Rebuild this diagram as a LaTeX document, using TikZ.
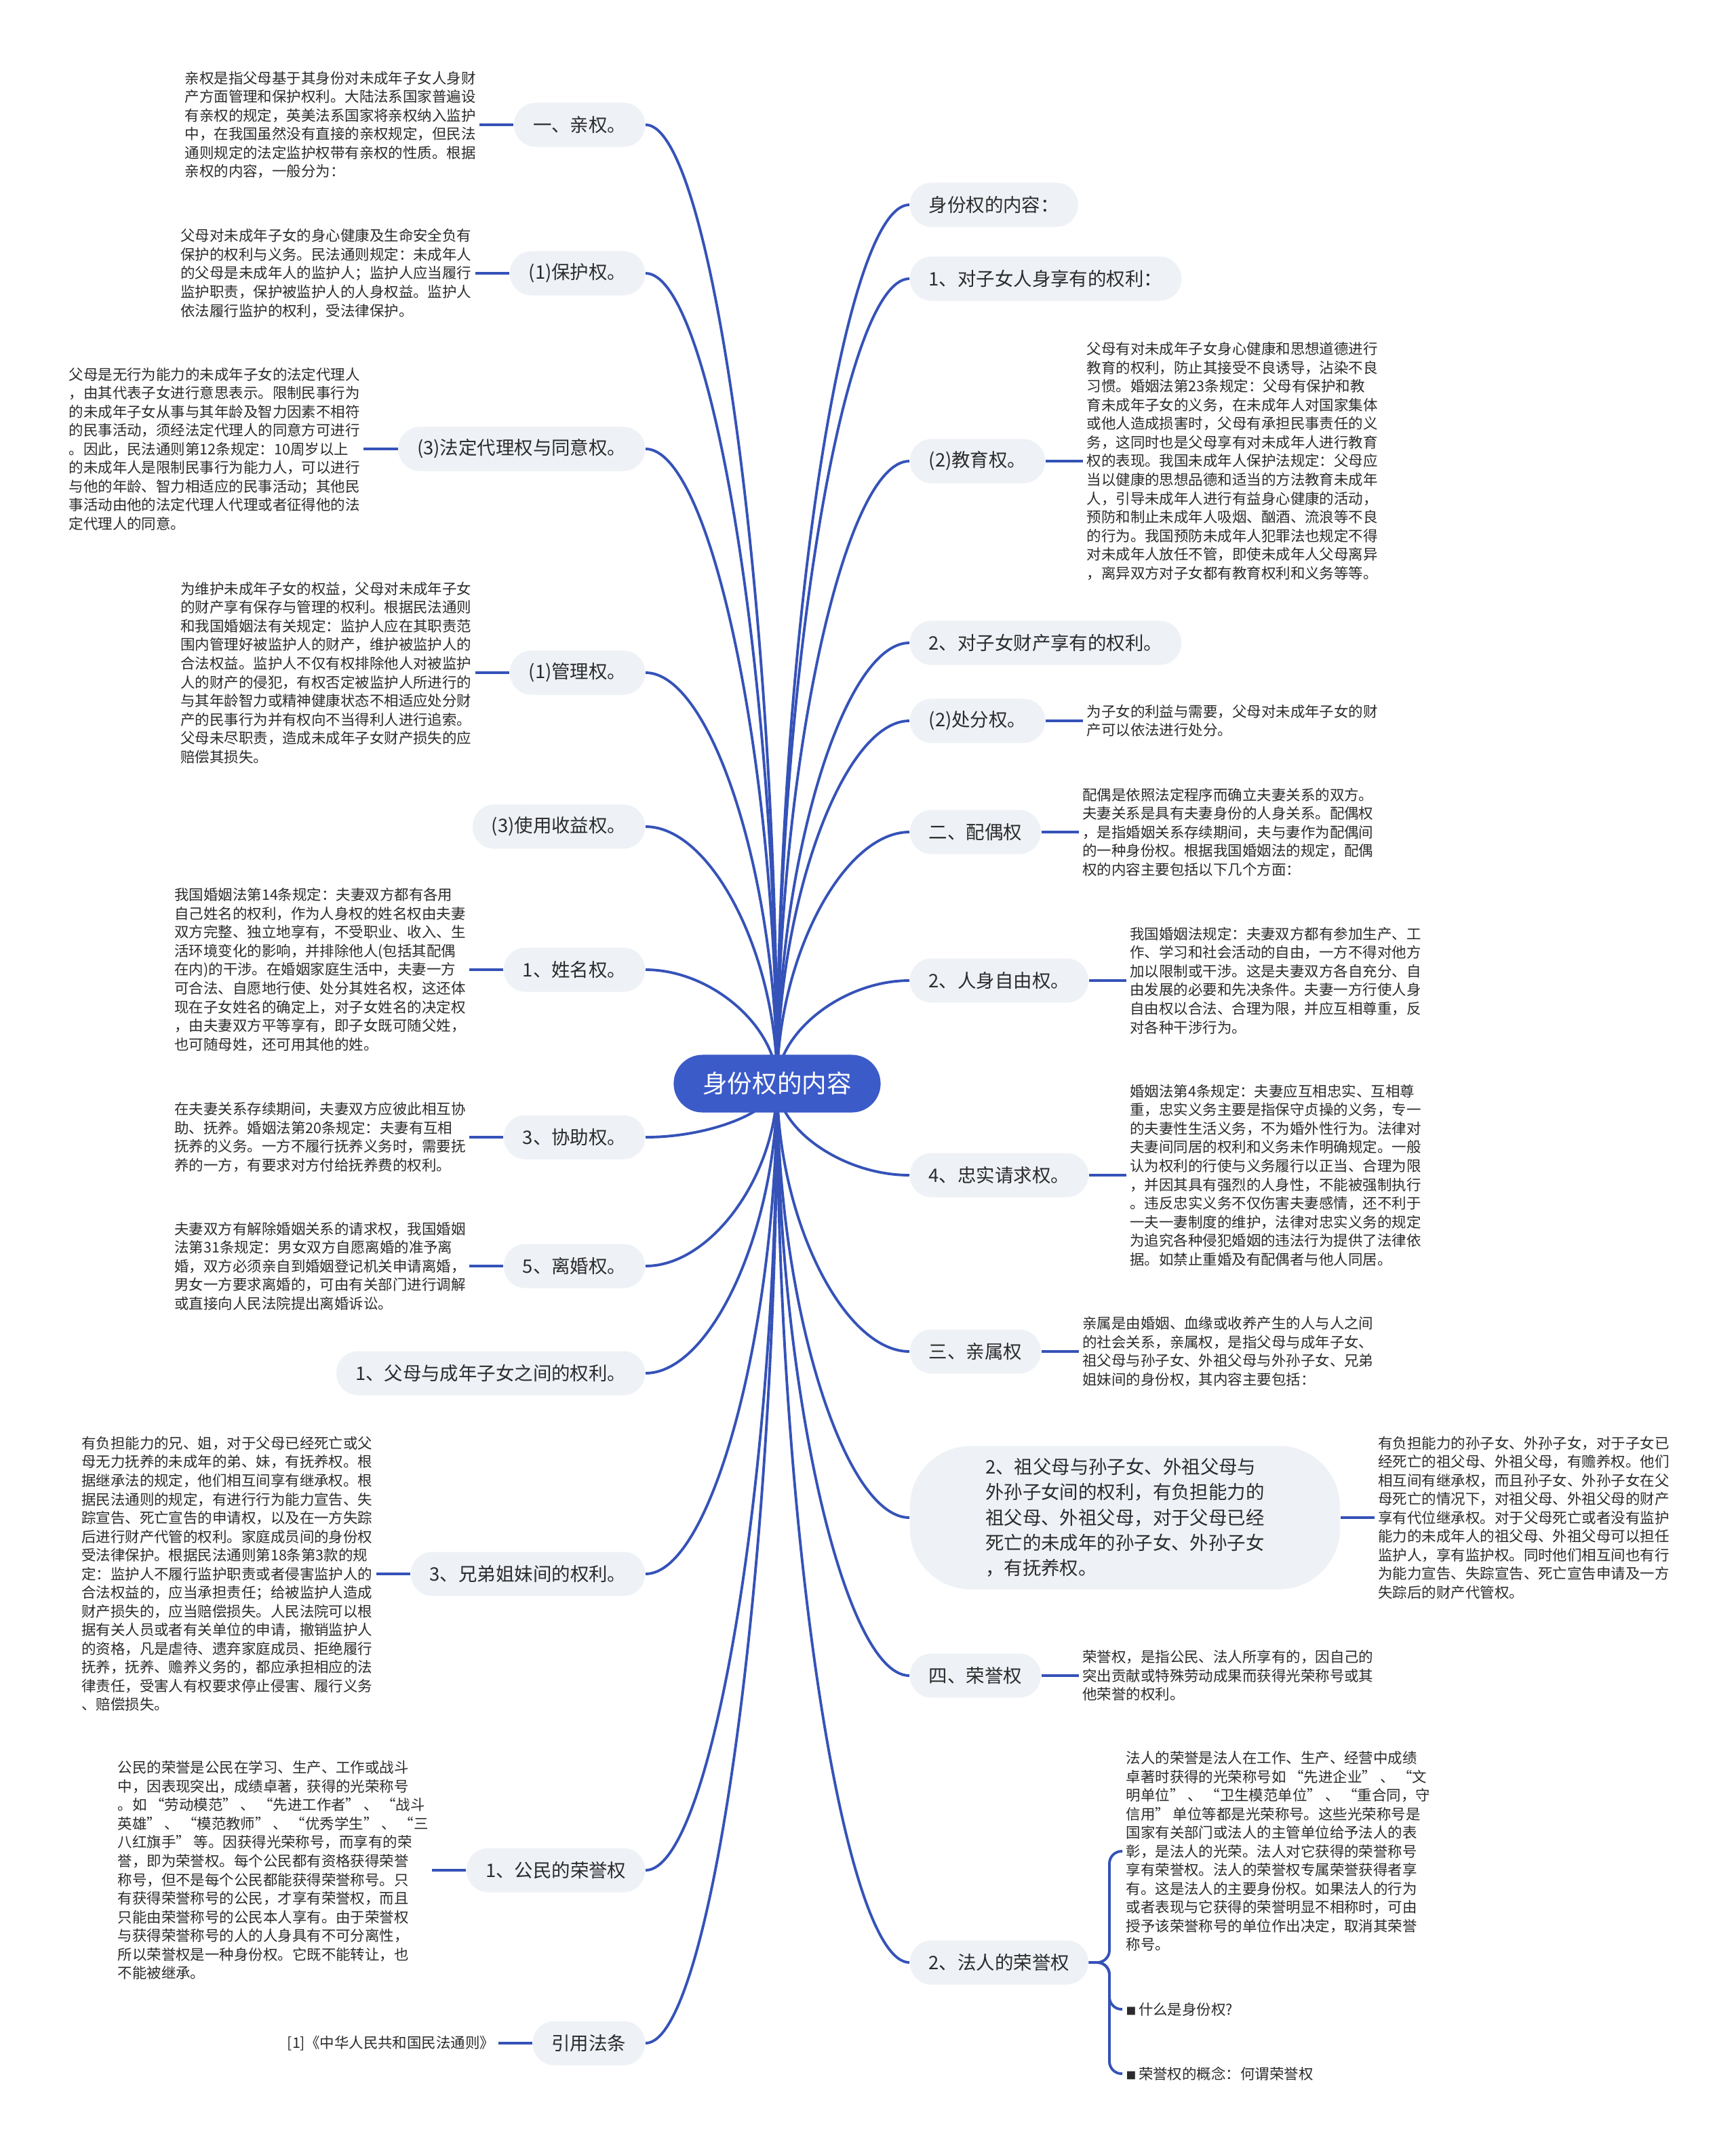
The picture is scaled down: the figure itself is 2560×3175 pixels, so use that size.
\documentclass[tikz,border=0pt]{standalone}
\usepackage{fontspec}
\setmainfont{Noto Sans CJK SC}
\usetikzlibrary{calc,backgrounds}
\definecolor{rootblue}{HTML}{3B5BC8}
\definecolor{linkblue}{HTML}{3552B8}
\definecolor{nodefill}{HTML}{EEF1F6}
\definecolor{txt}{HTML}{2B2B2B}
\tikzset{
  rootnode/.style={fill=rootblue, text=white, rounded corners=0.425cm, minimum width=3.05cm, minimum height=0.85cm, inner xsep=0.4cm, font=\fontsize{10.4pt}{12pt}\selectfont},
  branch/.style={fill=nodefill, text=txt, rounded corners=0.32cm, minimum height=0.65cm, inner xsep=0.28cm, font=\fontsize{7.8pt}{10.6pt}\selectfont},
  lbranch/.style={branch, anchor=east},
  rbranch/.style={branch, anchor=west},
  note/.style={text=txt, align=left, inner sep=0.05cm, font=\fontsize{6.1pt}{7.83pt}\selectfont},
  lnote/.style={note, anchor=east},
  rnote/.style={note, anchor=west},
  link/.style={draw=linkblue, line width=1.1pt},
}
\newcommand\toroot[2]{%
  \coordinate (mm) at ($(R.center)!0.5!(#1.#2)$);
  \draw[link] (R.center) .. controls (R.center |- mm) and (mm |- #1.#2) .. (#1.#2);
}
\begin{document}
\begin{tikzpicture}[x=0.01cm, y=-0.01cm]
\useasboundingbox (0,0) rectangle (2560,3175);

\node[rootnode] (R) at (1146,1598) {身份权的内容};

% ---------- left branches ----------
\node[lbranch] (l1) at (952,184) {一、亲权。};
\node[lbranch] (l2) at (952,403) {(1)保护权。};
\node[lbranch] (l3) at (952,662) {(3)法定代理权与同意权。};
\node[lbranch] (l4) at (952,992) {(1)管理权。};
\node[lbranch] (l5) at (952,1219) {(3)使用收益权。};
\node[lbranch] (l6) at (952,1430) {1、姓名权。};
\node[lbranch] (l7) at (952,1677) {3、协助权。};
\node[lbranch] (l8) at (952,1867) {5、离婚权。};
\node[lbranch] (l9) at (952,2025) {1、父母与成年子女之间的权利。};
\node[lbranch] (l10) at (952,2321) {3、兄弟姐妹间的权利。};
\node[lbranch] (l11) at (952,2758) {1、公民的荣誉权};
\node[lbranch] (l12) at (952,3013) {引用法条};

\node[lnote] (t1) at ([xshift=-0.5cm]l1.west) {亲权是指父母基于其身份对未成年子女人身财\\
产方面管理和保护权利。大陆法系国家普遍设\\
有亲权的规定，英美法系国家将亲权纳入监护\\
中，在我国虽然没有直接的亲权规定，但民法\\
通则规定的法定监护权带有亲权的性质。根据\\
亲权的内容，一般分为：};

\node[lnote] (t2) at ([xshift=-0.5cm]l2.west) {父母对未成年子女的身心健康及生命安全负有\\
保护的权利与义务。民法通则规定：未成年人\\
的父母是未成年人的监护人；监护人应当履行\\
监护职责，保护被监护人的人身权益。监护人\\
依法履行监护的权利，受法律保护。};

\node[lnote] (t3) at ([xshift=-0.5cm]l3.west) {父母是无行为能力的未成年子女的法定代理人\\
，由其代表子女进行意思表示。限制民事行为\\
的未成年子女从事与其年龄及智力因素不相符\\
的民事活动，须经法定代理人的同意方可进行\\
。因此，民法通则第12条规定：10周岁以上\\
的未成年人是限制民事行为能力人，可以进行\\
与他的年龄、智力相适应的民事活动；其他民\\
事活动由他的法定代理人代理或者征得他的法\\
定代理人的同意。};

\node[lnote] (t4) at ([xshift=-0.5cm]l4.west) {为维护未成年子女的权益，父母对未成年子女\\
的财产享有保存与管理的权利。根据民法通则\\
和我国婚姻法有关规定：监护人应在其职责范\\
围内管理好被监护人的财产，维护被监护人的\\
合法权益。监护人不仅有权排除他人对被监护\\
人的财产的侵犯，有权否定被监护人所进行的\\
与其年龄智力或精神健康状态不相适应处分财\\
产的民事行为并有权向不当得利人进行追索。\\
父母未尽职责，造成未成年子女财产损失的应\\
赔偿其损失。};

\node[lnote] (t6) at ([xshift=-0.5cm]l6.west) {我国婚姻法第14条规定：夫妻双方都有各用\\
自己姓名的权利，作为人身权的姓名权由夫妻\\
双方完整、独立地享有，不受职业、收入、生\\
活环境变化的影响，并排除他人(包括其配偶\\
在内)的干涉。在婚姻家庭生活中，夫妻一方\\
可合法、自愿地行使、处分其姓名权，这还体\\
现在子女姓名的确定上，对子女姓名的决定权\\
，由夫妻双方平等享有，即子女既可随父姓，\\
也可随母姓，还可用其他的姓。};

\node[lnote] (t7) at ([xshift=-0.5cm]l7.west) {在夫妻关系存续期间，夫妻双方应彼此相互协\\
助、抚养。婚姻法第20条规定：夫妻有互相\\
抚养的义务。一方不履行抚养义务时，需要抚\\
养的一方，有要求对方付给抚养费的权利。};

\node[lnote] (t8) at ([xshift=-0.5cm]l8.west) {夫妻双方有解除婚姻关系的请求权，我国婚姻\\
法第31条规定：男女双方自愿离婚的准予离\\
婚，双方必须亲自到婚姻登记机关申请离婚，\\
男女一方要求离婚的，可由有关部门进行调解\\
或直接向人民法院提出离婚诉讼。};

\node[lnote] (t10) at ([xshift=-0.5cm]l10.west) {有负担能力的兄、姐，对于父母已经死亡或父\\
母无力抚养的未成年的弟、妹，有抚养权。根\\
据继承法的规定，他们相互间享有继承权。根\\
据民法通则的规定，有进行行为能力宣告、失\\
踪宣告、死亡宣告的申请权，以及在一方失踪\\
后进行财产代管的权利。家庭成员间的身份权\\
受法律保护。根据民法通则第18条第3款的规\\
定：监护人不履行监护职责或者侵害监护人的\\
合法权益的，应当承担责任；给被监护人造成\\
财产损失的，应当赔偿损失。人民法院可以根\\
据有关人员或者有关单位的申请，撤销监护人\\
的资格，凡是虐待、遗弃家庭成员、拒绝履行\\
抚养，抚养、赡养义务的，都应承担相应的法\\
律责任，受害人有权要求停止侵害、履行义务\\
、赔偿损失。};

\node[lnote] (t11) at ([xshift=-0.5cm]l11.west) {公民的荣誉是公民在学习、生产、工作或战斗\\
中，因表现突出，成绩卓著，获得的光荣称号\\
。如 “劳动模范” 、 “先进工作者” 、 “战斗\\
英雄” 、 “模范教师” 、 “优秀学生” 、 “三\\
八红旗手” 等。因获得光荣称号，而享有的荣\\
誉，即为荣誉权。每个公民都有资格获得荣誉\\
称号，但不是每个公民都能获得荣誉称号。只\\
有获得荣誉称号的公民，才享有荣誉权，而且\\
只能由荣誉称号的公民本人享有。由于荣誉权\\
与获得荣誉称号的人的人身具有不可分离性，\\
所以荣誉权是一种身份权。它既不能转让，也\\
不能被继承。};

\node[lnote] (t12) at ([xshift=-0.5cm]l12.west) {[1]《中华人民共和国民法通则》};

% ---------- right branches ----------
\node[rbranch] (r1) at (1341,302) {身份权的内容：};
\node[rbranch] (r2) at (1341,411) {1、对子女人身享有的权利：};
\node[rbranch] (r3) at (1341,680) {(2)教育权。};
\node[rbranch] (r4) at (1341,948) {2、对子女财产享有的权利。};
\node[rbranch] (r5) at (1341,1063) {(2)处分权。};
\node[rbranch] (r6) at (1341,1227) {二、配偶权};
\node[rbranch] (r7) at (1341,1446) {2、人身自由权。};
\node[rbranch] (r8) at (1341,1733) {4、忠实请求权。};
\node[rbranch] (r9) at (1341,1993) {三、亲属权};
\node[rbranch, align=left, rounded corners=0.9cm, inner xsep=1.0cm, inner ysep=0.18cm, minimum width=6.34cm] (r10) at (1341,2238) {2、祖父母与孙子女、外祖父母与\\
外孙子女间的权利，有负担能力的\\
祖父母、外祖父母，对于父母已经\\
死亡的未成年的孙子女、外孙子女\\
，有抚养权。};
\node[rbranch] (r11) at (1341,2471) {四、荣誉权};
\node[rbranch] (r12) at (1341,2894) {2、法人的荣誉权};

\node[rnote] (s3) at ([xshift=0.55cm]r3.east) {父母有对未成年子女身心健康和思想道德进行\\
教育的权利，防止其接受不良诱导，沾染不良\\
习惯。婚姻法第23条规定：父母有保护和教\\
育未成年子女的义务，在未成年人对国家集体\\
或他人造成损害时，父母有承担民事责任的义\\
务，这同时也是父母享有对未成年人进行教育\\
权的表现。我国未成年人保护法规定：父母应\\
当以健康的思想品德和适当的方法教育未成年\\
人，引导未成年人进行有益身心健康的活动，\\
预防和制止未成年人吸烟、酗酒、流浪等不良\\
的行为。我国预防未成年人犯罪法也规定不得\\
对未成年人放任不管，即使未成年人父母离异\\
，离异双方对子女都有教育权利和义务等等。};

\node[rnote] (s5) at ([xshift=0.55cm]r5.east) {为子女的利益与需要，父母对未成年子女的财\\
产可以依法进行处分。};

\node[rnote] (s6) at ([xshift=0.55cm]r6.east) {配偶是依照法定程序而确立夫妻关系的双方。\\
夫妻关系是具有夫妻身份的人身关系。配偶权\\
，是指婚姻关系存续期间，夫与妻作为配偶间\\
的一种身份权。根据我国婚姻法的规定，配偶\\
权的内容主要包括以下几个方面：};

\node[rnote] (s7) at ([xshift=0.55cm]r7.east) {我国婚姻法规定：夫妻双方都有参加生产、工\\
作、学习和社会活动的自由，一方不得对他方\\
加以限制或干涉。这是夫妻双方各自充分、自\\
由发展的必要和先决条件。夫妻一方行使人身\\
自由权以合法、合理为限，并应互相尊重，反\\
对各种干涉行为。};

\node[rnote] (s8) at ([xshift=0.55cm]r8.east) {婚姻法第4条规定：夫妻应互相忠实、互相尊\\
重，忠实义务主要是指保守贞操的义务，专一\\
的夫妻性生活义务，不为婚外性行为。法律对\\
夫妻间同居的权利和义务未作明确规定。一般\\
认为权利的行使与义务履行以正当、合理为限\\
，并因其具有强烈的人身性，不能被强制执行\\
。违反忠实义务不仅伤害夫妻感情，还不利于\\
一夫一妻制度的维护，法律对忠实义务的规定\\
为追究各种侵犯婚姻的违法行为提供了法律依\\
据。如禁止重婚及有配偶者与他人同居。};

\node[rnote] (s9) at ([xshift=0.55cm]r9.east) {亲属是由婚姻、血缘或收养产生的人与人之间\\
的社会关系，亲属权，是指父母与成年子女、\\
祖父母与孙子女、外祖父母与外孙子女、兄弟\\
姐妹间的身份权，其内容主要包括：};

\node[rnote] (s10) at ([xshift=0.5cm]r10.east) {有负担能力的孙子女、外孙子女，对于子女已\\
经死亡的祖父母、外祖父母，有赡养权。他们\\
相互间有继承权，而且孙子女、外孙子女在父\\
母死亡的情况下，对祖父母、外祖父母的财产\\
享有代位继承权。对于父母死亡或者没有监护\\
能力的未成年人的祖父母、外祖父母可以担任\\
监护人，享有监护权。同时他们相互间也有行\\
为能力宣告、失踪宣告、死亡宣告申请及一方\\
失踪后的财产代管权。};

\node[rnote] (s11) at ([xshift=0.55cm]r11.east) {荣誉权，是指公民、法人所享有的，因自己的\\
突出贡献或特殊劳动成果而获得光荣称号或其\\
他荣誉的权利。};

\node[rnote] (c1) at (1655,2730) {法人的荣誉是法人在工作、生产、经营中成绩\\
卓著时获得的光荣称号如 “先进企业” 、 “文\\
明单位” 、 “卫生模范单位” 、 “重合同，守\\
信用” 单位等都是光荣称号。这些光荣称号是\\
国家有关部门或法人的主管单位给予法人的表\\
彰，是法人的光荣。法人对它获得的荣誉称号\\
享有荣誉权。法人的荣誉权专属荣誉获得者享\\
有。这是法人的主要身份权。如果法人的行为\\
或者表现与它获得的荣誉明显不相称时，可由\\
授予该荣誉称号的单位作出决定，取消其荣誉\\
称号。};
\node[rnote] (c2) at (1655,2963) {{\fontsize{4.2pt}{5pt}\selectfont ■}\,什么是身份权?};
\node[rnote] (c3) at (1655,3058) {{\fontsize{4.2pt}{5pt}\selectfont ■}\,荣誉权的概念：何谓荣誉权};

% ---------- connectors ----------
\begin{scope}[on background layer]
\fill[white] (0,0) rectangle (2560,3175);
\foreach \n in {l1,l2,l3,l4,l5,l6,l7,l8,l9,l10,l11,l12} {\toroot{\n}{east}}
\foreach \n in {r1,r2,r3,r4,r5,r6,r7,r8,r9,r10,r11,r12} {\toroot{\n}{west}}
\end{scope}
\foreach \t/\n in {t1/l1,t2/l2,t3/l3,t4/l4,t6/l6,t7/l7,t8/l8,t10/l10,t11/l11,t12/l12}
  {\draw[link] (\t.east) -- (\n.west);}
\foreach \n/\t in {r3/s3,r5/s5,r6/s6,r7/s7,r8/s8,r9/s9,r10/s10,r11/s11}
  {\draw[link] (\n.east) -- (\t.west);}
\coordinate (bk) at (1636,2894);
\foreach \c in {c1,c2,c3}
  {\draw[link, rounded corners=0.18cm] (r12.east) -- (bk) |- (\c.west);}
\end{tikzpicture}
\end{document}
